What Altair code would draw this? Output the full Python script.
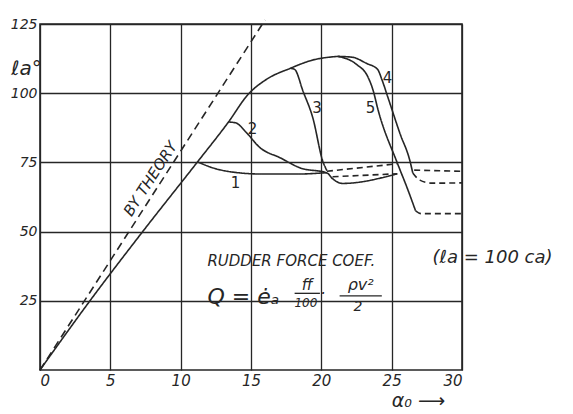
import altair as alt
import pandas as pd

INK = "#262626"
FONT = "DejaVu Sans"

# ---- curve data (alpha_0 in degrees, c_a values) ----
theory_x = [0, 16.0]
theory_y = [0, 126.5]

main_x = [0, 3.55, 7.3, 11.2, 13.4, 14.8, 16.1, 17.8, 19.4, 21.2]
main_y = [0, 25, 50, 75.2, 89.6, 99.6, 105, 109, 112, 113.3]

c1_x = [11.2, 12.3, 13.7, 15.8, 18.3, 20.4]
c1_y = [75.2, 73.0, 71.5, 70.8, 70.8, 71.3]
c1d_x = [20.8, 25.4]
c1d_y = [69.8, 70.9]

c2_x = [13.4, 13.9, 14.7, 15.6, 17.1, 18.5, 20.4, 20.8, 21.5, 25.4]
c2_y = [89.6, 89.3, 85.6, 80.5, 76.6, 73.0, 71.2, 69.1, 67.4, 70.9]

c3_x = [17.8, 18.1, 18.7, 19.4, 20.1, 20.4]
c3_y = [109.0, 108.6, 100.7, 91.0, 75.5, 72.0]
c3d_x = [20.4, 25.4]
c3d_y = [71.8, 74.5]

c4_x = [21.2, 22.2, 23.2, 24.0, 24.3, 24.7, 25.6, 26.3, 26.5]
c4_y = [113.3, 113.0, 110.8, 108.6, 105.0, 99.0, 85.3, 75.5, 71.2]
c4d_x = [26.5, 27.0, 27.9, 30.0]
c4d_y = [71.2, 68.6, 67.5, 67.6]

c5_x = [21.2, 22.5, 23.3, 23.7, 24.0, 25.4, 26.1, 26.7]
c5_y = [113.3, 110.4, 106.0, 100.7, 94.6, 74.8, 65.8, 57.5]
c5d_x = [26.7, 27.1, 30.0]
c5d_y = [57.5, 56.5, 56.5]

ext_x = [26.6, 30.0]
ext_y = [72.2, 71.8]

segments = [
    ("theory", "dashT", theory_x, theory_y),
    ("main", "solid", main_x, main_y),
    ("c1", "solid", c1_x, c1_y),
    ("c1d", "dash", c1d_x, c1d_y),
    ("c2", "solid", c2_x, c2_y),
    ("c3", "solid", c3_x, c3_y),
    ("c3d", "dash", c3d_x, c3d_y),
    ("c4", "solid", c4_x, c4_y),
    ("c4d", "dash", c4d_x, c4d_y),
    ("c5", "solid", c5_x, c5_y),
    ("c5d", "dash", c5d_x, c5d_y),
    ("ext", "dash", ext_x, ext_y),
]
rows = []
for name, style, xs_, ys_ in segments:
    for i, (x, y) in enumerate(zip(xs_, ys_)):
        rows.append(dict(seg=name, style=style, x=x, y=y, i=i))
df = pd.DataFrame(rows)

# ---- labels ----
curve_lbl = ["1", "2", "3", "4", "5"]
curve_lbl_x = [13.9, 15.1, 19.7, 24.7, 23.5]
curve_lbl_y = [67.6, 87.0, 94.6, 105.4, 94.6]

left_txt = ["RUDDER FORCE COEF.", "(ℓa = 100 ca)", "Q = ėₐ"]
left_x = [11.9, 27.9, 11.9]
left_y = [39.2, 40.6, 26.3]
left_size = [15, 18, 22]

frac_txt = ["ff", "100", "·", "ρv²", "2"]
frac_x = [19.0, 18.9, 20.1, 22.8, 22.6]
frac_y = [30.6, 24.1, 27.4, 30.8, 22.8]
frac_size = [15, 12, 16, 16, 14]

bar_x = [18.1, 21.3]
bar_x2 = [19.9, 24.3]
bar_y = [27.7, 26.8]

xs = alt.Scale(domain=[0, 30], nice=False)
ys = alt.Scale(domain=[0, 125], nice=False)

lines = alt.Chart(df).mark_line(
    interpolate="monotone", strokeWidth=1.6, color=INK
).encode(
    x=alt.X("x:Q", scale=xs, axis=alt.Axis(
        values=[0, 5, 10, 15, 20, 25, 30], title="α₀ ⟶",
        titleX=378, titleY=30, titleAngle=0, titleAlign="center",
        titleBaseline="middle", titleFontSize=19, titleFontStyle="italic",
        titleFontWeight="normal", labelPadding=3)),
    y=alt.Y("y:Q", scale=ys, axis=alt.Axis(
        values=[25, 50, 75, 100, 125], title="ℓa°",
        titleX=-14, titleY=44, titleAngle=0, titleAlign="center",
        titleBaseline="middle", titleFontSize=20, titleFontStyle="italic",
        titleFontWeight="normal", labelPadding=3, labelFontSize=14)),
    detail="seg:N",
    order="i:Q",
    strokeDash=alt.StrokeDash("style:N", scale=alt.Scale(
        domain=["solid", "dash", "dashT"],
        range=[[1, 0], [6, 4], [8, 5]]), legend=None),
)

lbl_df = pd.DataFrame(dict(t=curve_lbl, x=curve_lbl_x, y=curve_lbl_y))
curve_text = alt.Chart(lbl_df).mark_text(
    fontSize=15, font=FONT, color=INK, align="center", baseline="middle"
).encode(x="x:Q", y="y:Q", text="t:N")

left_df = pd.DataFrame(dict(t=left_txt, x=left_x, y=left_y, s=left_size))
left_text = alt.Chart(left_df).mark_text(
    font=FONT, color=INK, align="left", baseline="middle", fontStyle="italic"
).encode(x="x:Q", y="y:Q", text="t:N", size=alt.Size("s:Q", scale=None))

frac_df = pd.DataFrame(dict(t=frac_txt, x=frac_x, y=frac_y, s=frac_size))
frac_text = alt.Chart(frac_df).mark_text(
    font=FONT, color=INK, align="center", baseline="middle", fontStyle="italic"
).encode(x="x:Q", y="y:Q", text="t:N", size=alt.Size("s:Q", scale=None))

bar_df = pd.DataFrame(dict(x=bar_x, x2=bar_x2, y=bar_y))
bars = alt.Chart(bar_df).mark_rule(color=INK, strokeWidth=1.3).encode(
    x="x:Q", x2="x2:Q", y="y:Q")

theory_df = pd.DataFrame(dict(t=["BY THEORY"], x=[7.85], y=[69.1]))
theory_text = alt.Chart(theory_df).mark_text(
    font=FONT, fontSize=15, color=INK, angle=303, align="center",
    baseline="middle", fontStyle="italic"
).encode(x="x:Q", y="y:Q", text="t:N")

chart = alt.layer(
    lines, curve_text, left_text, frac_text, bars, theory_text
).properties(
    width=422, height=346,
    autosize=alt.AutoSizeParams(type="none"),
    padding={"left": 32, "top": 16, "right": 103, "bottom": 40},
    background="white",
).configure_view(
    stroke=INK, strokeWidth=1.6
).configure_axis(
    grid=True, gridColor=INK, gridWidth=1.3, gridOpacity=1,
    domain=False, ticks=False,
    labelFont=FONT, labelFontSize=15, labelFontStyle="italic",
    labelColor=INK, titleFont=FONT, titleColor=INK,
)

chart.save("out.html", embed_options={"renderer": "svg", "actions": False})
